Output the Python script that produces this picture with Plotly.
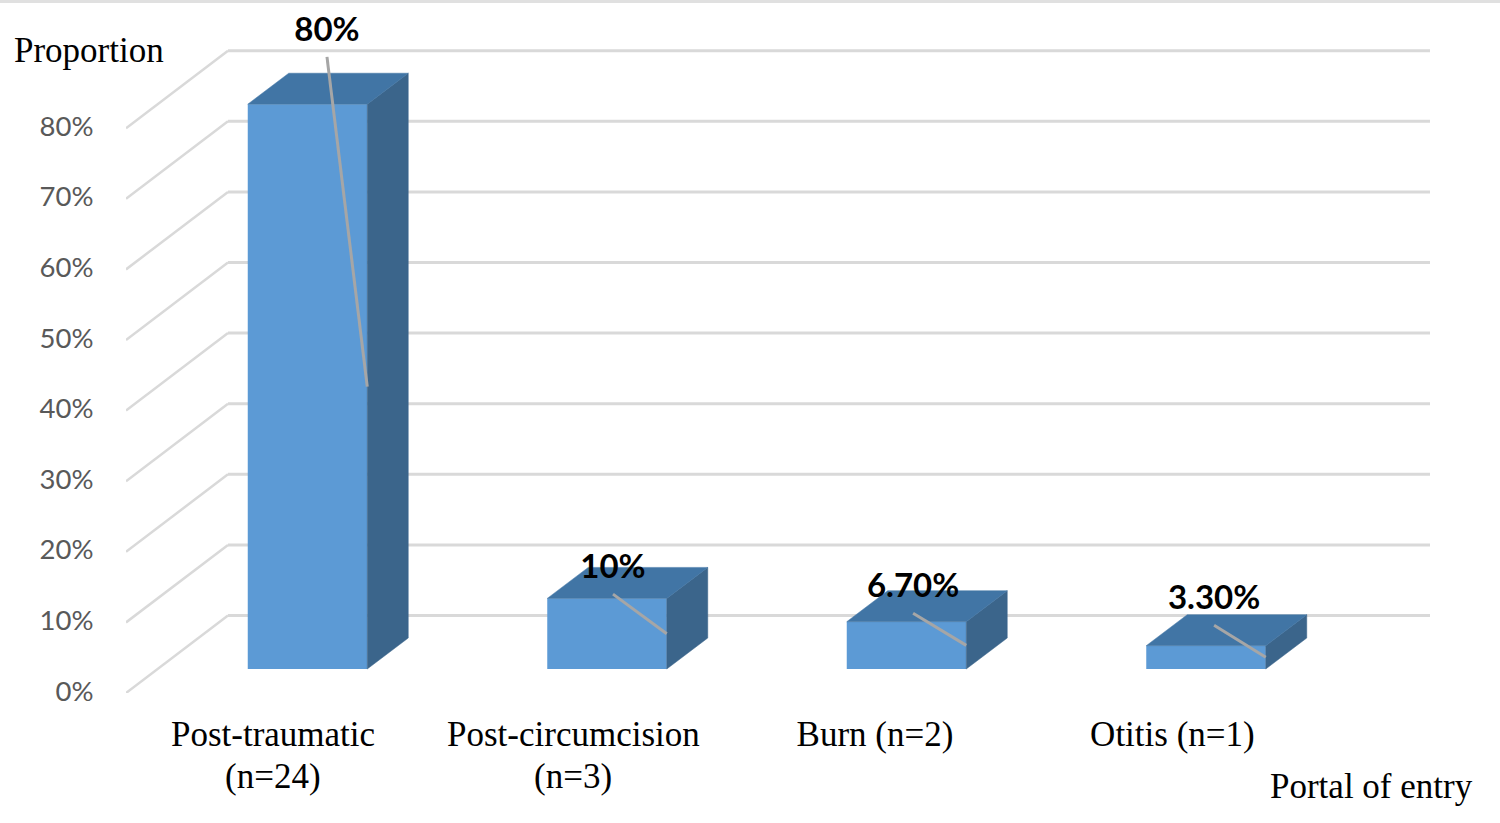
import plotly.graph_objects as go

# ---- data ----
categories = ["Post-traumatic", "Post-circumcision", "Burn (n=2)", "Otitis (n=1)"]
second_lines = ["(n=24)", "(n=3)", "", ""]
values = [80, 10, 6.7, 3.3]
value_labels = ["80%", "10%", "6.70%", "3.30%"]
y_ticks = [0, 10, 20, 30, 40, 50, 60, 70, 80]
y_tick_labels = ["0%", "10%", "20%", "30%", "40%", "50%", "60%", "70%", "80%"]

# ---- pseudo-3D geometry, in axis units ----
W, H = 1500, 823
L, R, T, B = 126, 70, 0, 130
PX_X = 299.5          # pixels per category
PX_Y = 7.06           # pixels per percentage point
X_MIN = -147 / PX_X
X_MAX = X_MIN + (W - L - R) / PX_X
Y_MAX = (H - B - T) / PX_Y
WALL_DX, WALL_DY = 102 / PX_X, 77.5 / PX_Y
BAR_OFF = 34.5 / PX_X
BAR_W = 119.5 / PX_X
BAR_BASE = 24 / PX_Y
BAR_DX, BAR_DY = 41 / PX_X, 31 / PX_Y
tick_pos = [0, 1.003, 2.01, 3.003]
label_dx = [0.065, 0.02, 0.022, 0.027]
label_y = [93.5, 17.4, 14.7, 13.0]
LEAD_DROP = 3.4

GRID = "#D9D9D9"
FRONT, TOP, SIDE = "#5C9AD5", "#4175A5", "#3B658B"
SERIF = "Liberation Serif"
SANS = "Lato"

fig = go.Figure()

# bar fronts
centers = [i + BAR_OFF for i in range(len(values))]
fig.add_trace(go.Bar(x=centers, y=values, base=BAR_BASE, width=BAR_W,
                     marker=dict(color=FRONT, line=dict(width=0)), hoverinfo="skip"))

# tops and sides
tx, ty, sx, sy = [], [], [], []
for c, v in zip(centers, values):
    l, r = c - BAR_W / 2, c + BAR_W / 2
    t = v + BAR_BASE
    tx += [l, r, r + BAR_DX, l + BAR_DX, l, None]
    ty += [t, t, t + BAR_DY, t + BAR_DY, t, None]
    sx += [r, r + BAR_DX, r + BAR_DX, r, r, None]
    sy += [BAR_BASE, BAR_BASE + BAR_DY, t + BAR_DY, t, BAR_BASE, None]
for xs, ys, col in ((sx, sy, SIDE), (tx, ty, TOP)):
    fig.add_trace(go.Scatter(x=xs, y=ys, mode="lines", fill="toself", fillcolor=col,
                             line=dict(color=col, width=0.5), hoverinfo="skip"))

# leader lines
lx, ly = [], []
for c, v, dx, yl in zip(centers, values, label_dx, label_y):
    lx += [c + dx, c + BAR_W / 2, None]
    ly += [yl - LEAD_DROP, BAR_BASE + v / 2, None]
fig.add_trace(go.Scatter(x=lx, y=ly, mode="lines", line=dict(color="#A6A6A6", width=3),
                         hoverinfo="skip"))

# data labels
fig.add_trace(go.Scatter(x=[c + d for c, d in zip(centers, label_dx)], y=label_y,
                         mode="text", text=value_labels, textposition="middle center",
                         textfont=dict(family=SANS, size=33, color="#000000", weight="bold"),
                         hoverinfo="skip"))

# gridlines: floor/walls behind the bars
shapes = []
for v in y_ticks:
    shapes.append(dict(type="line", layer="below", xref="x", yref="y",
                       x0=X_MIN, y0=v, x1=X_MIN + WALL_DX, y1=v + WALL_DY,
                       line=dict(color=GRID, width=2.5)))
    shapes.append(dict(type="line", layer="below", xref="x", yref="y",
                       x0=X_MIN + WALL_DX, y0=v + WALL_DY, x1=X_MAX, y1=v + WALL_DY,
                       line=dict(color=GRID, width=3)))
# thin rule along the top edge of the picture
shapes.append(dict(type="rect", layer="below", xref="paper", yref="paper",
                   x0=-L / (W - L - R), x1=(W - L) / (W - L - R),
                   y0=(H - B - 3) / (H - B - T), y1=(H - B) / (H - B - T),
                   fillcolor="#E0E0E0", line=dict(width=0)))

def px(x):
    return (x - L) / (W - L - R)

def py(y):
    return (H - B - y) / (H - B - T)

annotations = [
    dict(text="Proportion", xref="paper", yref="paper", x=px(12), y=py(50), xanchor="left",
         yanchor="middle", showarrow=False, font=dict(family=SERIF, size=35, color="#000000")),
    dict(text="Portal of entry", xref="paper", yref="paper", x=px(1268), y=py(786), xanchor="left",
         yanchor="middle", showarrow=False, font=dict(family=SERIF, size=35, color="#000000")),
]
for p, s in zip(tick_pos, second_lines):
    if s:
        annotations.append(dict(text=s, xref="x", yref="paper", x=p, y=py(776), xanchor="center",
                                yanchor="middle", showarrow=False,
                                font=dict(family=SERIF, size=35, color="#000000")))

fig.update_layout(
    width=W, height=H, autosize=False,
    margin=dict(l=L, r=R, t=T, b=B, pad=0),
    paper_bgcolor="#FFFFFF", plot_bgcolor="rgba(0,0,0,0)",
    showlegend=False, barmode="overlay",
    shapes=shapes, annotations=annotations,
    xaxis=dict(range=[X_MIN, X_MAX], tickmode="array", tickvals=tick_pos, ticktext=categories,
               showgrid=False, zeroline=False, showline=False,
               ticks="outside", ticklen=10, tickcolor="rgba(0,0,0,0)",
               tickfont=dict(family=SERIF, size=35, color="#000000")),
    yaxis=dict(range=[0, Y_MAX], tickmode="array", tickvals=y_ticks, ticktext=y_tick_labels,
               showgrid=False, zeroline=False, showline=False,
               ticks="outside", ticklen=26, tickcolor="rgba(0,0,0,0)", ticklabelshift=-2,
               tickfont=dict(family=SANS, size=27.5, color="#595959")),
)

fig.write_html("out.html", config=dict(displayModeBar=False),
               post_script="document.body.style.margin='0';")
